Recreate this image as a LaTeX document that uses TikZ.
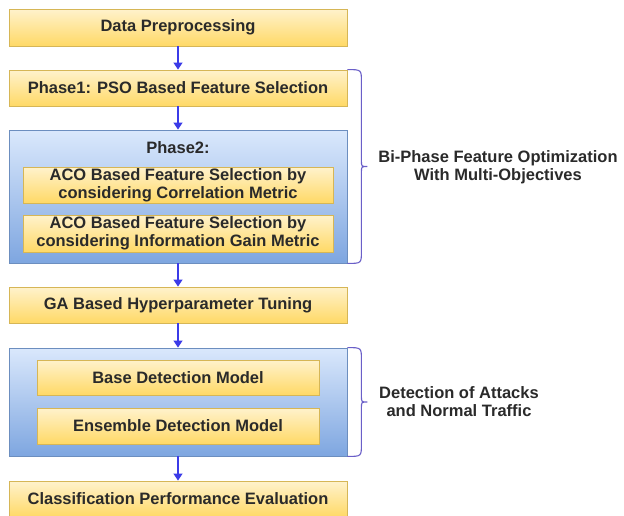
\documentclass[tikz,border=0pt]{standalone}
\usepackage{fontspec}
\setmainfont{Liberation Sans}
\usetikzlibrary{arrows.meta,calc}
\definecolor{ytop}{HTML}{FFF2CC}
\definecolor{ybot}{HTML}{FFD966}
\definecolor{ystroke}{HTML}{D6B656}
\definecolor{btop}{HTML}{DAE8FC}
\definecolor{bbot}{HTML}{7EA6E0}
\definecolor{bstroke}{HTML}{6C8EBF}
\definecolor{arrowc}{HTML}{3B3BE8}
\definecolor{bracec}{HTML}{6A5FC8}
\definecolor{txt}{HTML}{2A2A2A}
\tikzset{
  ybox/.style={draw=ystroke, line width=0.8pt, top color=ytop, bottom color=ybot, text=txt,
    inner sep=0pt, align=center, font=\fontsize{16.5}{18}\selectfont\bfseries},
  bbox/.style={draw=bstroke, line width=0.8pt, top color=btop, bottom color=bbot, inner sep=0pt},
  flow/.style={draw=arrowc, line width=1.3pt, -{Triangle[width=9pt,length=7pt]}},
  bracel/.style={draw=bracec, line width=1.1pt},
  lbl/.style={text=txt, align=center, inner sep=0pt, font=\fontsize{16.5}{18}\selectfont\bfseries}
}
\begin{document}
\begin{tikzpicture}[x=1pt,y=-1pt]
\useasboundingbox (0,0) rectangle (624,515);
\fill[white] (0,0) rectangle (624,515);
\node[ybox, minimum width=338pt, minimum height=37pt] (dp) at (178,27.5) {Data Preprocessing};
\node[ybox, minimum width=338pt, minimum height=36pt] (p1) at (178,88) {Phase1: PSO Based Feature Selection};
\node[bbox, minimum width=338pt, minimum height=133pt] (p2) at (178,196.5) {};
\node[lbl] (p2t) at (178,148) {Phase2:};
\node[ybox, minimum width=310pt, minimum height=36pt] (aco1) at (178,185) {ACO Based Feature Selection by\\considering Correlation Metric};
\node[ybox, minimum width=310pt, minimum height=37pt] (aco2) at (178,233.5) {ACO Based Feature Selection by\\considering Information Gain Metric};
\node[ybox, minimum width=338pt, minimum height=36pt] (ga) at (178,305) {GA Based Hyperparameter Tuning};
\node[bbox, minimum width=338pt, minimum height=108pt] (det) at (178,402) {};
\node[ybox, minimum width=282pt, minimum height=35pt] (base) at (178,377.5) {Base Detection Model};
\node[ybox, minimum width=282pt, minimum height=36pt] (ens) at (178,426) {Ensemble Detection Model};
\node[ybox, minimum width=338pt, minimum height=36pt] (cls) at (178,499) {Classification Performance Evaluation};

\draw[flow] (dp.south) -- (p1.north);
\draw[flow] (p1.south) -- (p2.north);
\draw[flow] (p2.south) -- (ga.north);
\draw[flow] (ga.south) -- (det.north);
\draw[flow] (det.south) -- (cls.north);

% braces
\coordinate (b1t) at (p1.north east);
\coordinate (b1b) at (p2.south east);
\coordinate (b1m) at ($(b1t)!0.5!(b1b)$);
\draw[bracel] (b1t) .. controls ($(b1t)+(14,0)$) .. ($(b1t)+(14,12)$)
  -- ($(b1m)+(14,-6)$) .. controls ($(b1m)+(14,0)$) .. ($(b1m)+(20,0)$)
  .. controls ($(b1m)+(14,0)$) .. ($(b1m)+(14,6)$)
  -- ($(b1b)+(14,-12)$) .. controls ($(b1b)+(14,0)$) .. (b1b);
\node[lbl] (t1) at (498,167) {Bi-Phase Feature Optimization\\With Multi-Objectives};

\coordinate (b2t) at (det.north east);
\coordinate (b2b) at (det.south east);
\coordinate (b2m) at ($(b2t)!0.5!(b2b)$);
\draw[bracel] (b2t) .. controls ($(b2t)+(14,0)$) .. ($(b2t)+(14,12)$)
  -- ($(b2m)+(14,-6)$) .. controls ($(b2m)+(14,0)$) .. ($(b2m)+(20,0)$)
  .. controls ($(b2m)+(14,0)$) .. ($(b2m)+(14,6)$)
  -- ($(b2b)+(14,-12)$) .. controls ($(b2b)+(14,0)$) .. (b2b);
\node[lbl] (t2) at (459,402) {Detection of Attacks\\and Normal Traffic};
\end{tikzpicture}
\end{document}
